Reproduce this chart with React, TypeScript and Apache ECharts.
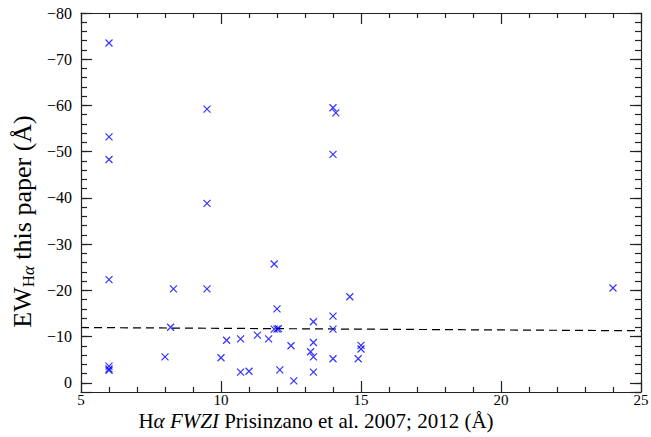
import React, { useEffect, useRef } from "react";
import * as echarts from "echarts";

// H-alpha FWZI (Prisinzano et al.) vs EW (this paper)
const fwzi = [
  6.0, 6.0, 6.0, 6.0, 6.0, 6.0, 6.0,
  8.0, 8.2, 8.3,
  9.5, 9.5, 9.5,
  10.0, 10.2, 10.7, 10.7, 11.0, 11.3, 11.7,
  11.9, 11.9, 12.0, 12.0, 12.05, 12.1,
  12.5, 12.6,
  13.2, 13.3, 13.3, 13.3, 13.3,
  14.0, 14.1, 14.0, 14.0, 14.0, 14.0,
  14.6, 14.9, 15.0, 15.0,
  24.0,
];
const ewHa = [
  -73.5, -53.2, -48.3, -22.3, -3.6, -3.0, -2.7,
  -5.6, -12.0, -20.3,
  -59.2, -38.8, -20.3,
  -5.4, -9.2, -9.5, -2.3, -2.5, -10.3, -9.5,
  -25.7, -11.6, -16.0, -11.6, -11.7, -2.8,
  -8.0, -0.4,
  -6.7, -13.2, -8.7, -5.6, -2.3,
  -59.5, -58.4, -49.4, -14.4, -11.6, -5.2,
  -18.6, -5.2, -8.1, -7.3,
  -20.5,
];
const fitX = [5, 25];
const fitY = [-11.95, -11.25];

const xTicks = [5, 10, 15, 20, 25];
const yTicks = [-80, -70, -60, -50, -40, -30, -20, -10, 0];

const FONT = "'Liberation Serif', 'DejaVu Serif', serif";
const AXIS_COLOR = "#222";

export default function App() {
  const ref = useRef<HTMLDivElement>(null);
  useEffect(() => {
    if (!ref.current) return;
    const chart = echarts.init(ref.current, null, { renderer: "svg" });
    const fmtY = (v: number) =>
      yTicks.includes(v) ? String(v).replace("-", "\u2212") : "";
    const fmtX = (v: number) => (xTicks.includes(v) ? String(v) : "");
    const lineStyle = { color: AXIS_COLOR, width: 1.2 };
    const baseX = {
      type: "value" as const,
      min: 5,
      max: 25,
      interval: 5,
      gridIndex: 0,
      splitLine: { show: false },
      axisLine: { show: true, onZero: false, lineStyle },
      axisTick: { show: true, inside: true, length: 11, lineStyle },
      minorTick: { show: true, splitNumber: 5, length: 5, lineStyle },
    };
    const baseY = {
      type: "value" as const,
      min: -80,
      max: 2,
      inverse: true,
      gridIndex: 0,
      splitLine: { show: false },
      axisLine: { show: true, onZero: false, lineStyle },
    };
    chart.setOption({
      animation: false,
      backgroundColor: "#fff",
      grid: {
        left: 81,
        right: 10,
        top: 13,
        bottom: 45,
        containLabel: false,
        outerBoundsMode: "none",
      },
      xAxis: [
        {
          ...baseX,
          position: "bottom",
          axisLabel: {
            show: true,
            formatter: fmtX,
            margin: 2,
            color: "#000",
            fontFamily: FONT,
            fontSize: 15,
            lineHeight: 12,
          },
          name: "H{it|\u03b1} {it|FWZI} Prisinzano et al. 2007; 2012 (\u00c5)",
          nameLocation: "middle",
          nameGap: 20,
          nameMoveOverlap: false,
          nameTextStyle: {
            color: "#000",
            fontFamily: FONT,
            fontSize: 21,
            lineHeight: 18,
            padding: [0, 90, 0, 0],
            rich: {
              it: {
                fontFamily: FONT,
                fontStyle: "italic",
                fontSize: 21,
                lineHeight: 18,
                color: "#000",
              },
            },
          },
        },
        {
          ...baseX,
          position: "top",
          axisLabel: { show: false },
        },
      ],
      yAxis: [
        {
          ...baseY,
          position: "left",
          interval: 2,
          axisTick: { show: true, inside: true, length: 6, lineStyle },
          axisLabel: {
            show: true,
            formatter: fmtY,
            margin: 9,
            color: "#000",
            fontFamily: FONT,
            fontSize: 16,
            showMaxLabel: false,
          },
          name: "EW{sub|H}{subi|\u03b1} this paper (\u00c5)",
          nameLocation: "middle",
          nameRotate: 90,
          nameGap: 44,
          nameMoveOverlap: false,
          nameTextStyle: {
            color: "#000",
            fontFamily: FONT,
            fontSize: 26,
            lineHeight: 30,
            padding: [0, 38, 0, 0],
            rich: {
              sub: {
                fontFamily: FONT,
                fontSize: 17,
                lineHeight: 17,
                verticalAlign: "bottom",
                color: "#000",
              },
              subi: {
                fontFamily: FONT,
                fontSize: 17,
                fontStyle: "italic",
                lineHeight: 17,
                verticalAlign: "bottom",
                color: "#000",
              },
            },
          },
        },
        {
          ...baseY,
          position: "left",
          offset: 0,
          interval: 10,
          axisLine: { show: false },
          axisTick: { show: true, inside: true, length: 11, lineStyle },
          axisLabel: { show: false },
        },
        {
          ...baseY,
          position: "right",
          interval: 2,
          axisTick: { show: true, inside: true, length: 6, lineStyle },
          axisLabel: { show: false },
        },
        {
          ...baseY,
          position: "right",
          offset: 0,
          interval: 10,
          axisLine: { show: false },
          axisTick: { show: true, inside: true, length: 11, lineStyle },
          axisLabel: { show: false },
        },
      ],
      series: [
        {
          type: "line",
          xAxisIndex: 0,
          yAxisIndex: 0,
          data: fitX.map((x, i) => [x, fitY[i]]),
          symbol: "none",
          lineStyle: { color: "#000", width: 1.2, type: [8, 5] },
          silent: true,
          z: 1,
        },
        {
          type: "scatter",
          xAxisIndex: 0,
          yAxisIndex: 0,
          data: fwzi.map((x, i) => [x, ewHa[i]]),
          symbol: "path://M0 0L10 10M10 0L0 10",
          symbolSize: 7,
          itemStyle: { color: "none", borderColor: "#0000ff", borderWidth: 1.2 },
          z: 2,
        },
      ],
    });
    return () => chart.dispose();
  }, []);
  return <div ref={ref} style={{ width: 651, height: 437, position: "absolute", left: 0, top: 0 }} />;
}
